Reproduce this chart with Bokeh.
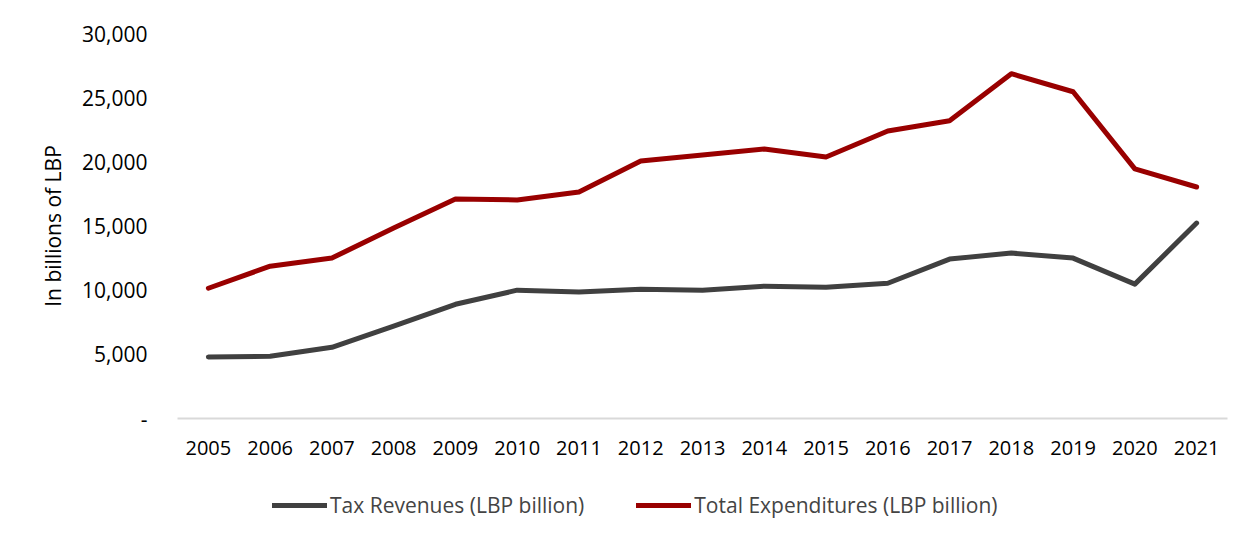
from bokeh.plotting import figure
from bokeh.layouts import column
from bokeh.models import Legend, LegendItem, FixedTicker, CustomJSTickFormatter, Range1d
from bokeh.embed import file_html
from bokeh.resources import INLINE

years = list(range(2005, 2022))
tax_revenues = [4800, 4850, 5550, 7200, 8900, 10000, 9850, 10080, 10000, 10310, 10230, 10540, 12420, 12890, 12500, 10470, 15230]
total_expenditures = [10150, 11870, 12500, 14840, 17100, 17030, 17650, 20070, 20540, 21000, 20380, 22400, 23200, 26870, 25460, 19450, 18040]
y_ticks = [0, 5000, 10000, 15000, 20000, 25000, 30000]
series_names = ["Tax Revenues (LBP billion)", "Total Expenditures (LBP billion)"]
colors = ["#404040", "#990000"]

FONT = "Open Sans"

p = figure(frame_width=1050, frame_height=385, output_backend="svg", toolbar_location=None,
           x_range=Range1d(2004.5, 2021.5), y_range=Range1d(0, 30000),
           min_border_left=177, min_border_right=17, min_border_top=33, min_border_bottom=60)
p.outline_line_color = None
p.xgrid.visible = False
p.ygrid.visible = False

p.line(years, tax_revenues, line_color=colors[0], line_width=5, line_cap="round", line_join="round")
p.line(years, total_expenditures, line_color=colors[1], line_width=5, line_cap="round", line_join="round")

p.xaxis.ticker = FixedTicker(ticks=years)
p.xaxis.axis_line_color = "#D9D9D9"
p.xaxis.axis_line_width = 2
p.xaxis.major_tick_line_color = None
p.xaxis.minor_tick_line_color = None
p.xaxis.major_label_text_font = FONT
p.xaxis.major_label_text_font_size = "20px"
p.xaxis.major_label_text_color = "#000000"
p.xaxis.major_label_standoff = 16

p.yaxis.ticker = FixedTicker(ticks=y_ticks)
p.yaxis.formatter = CustomJSTickFormatter(code="return tick == 0 ? '-' : tick.toLocaleString('en-US');")
p.yaxis.axis_line_color = None
p.yaxis.major_tick_line_color = None
p.yaxis.minor_tick_line_color = None
p.yaxis.major_label_text_font = FONT
p.yaxis.major_label_text_font_size = "21px"
p.yaxis.major_label_text_color = "#000000"
p.yaxis.major_label_standoff = 24
p.yaxis.axis_label = "In billions of LBP"
p.yaxis.axis_label_text_font = FONT
p.yaxis.axis_label_text_font_size = "21px"
p.yaxis.axis_label_text_font_style = "normal"
p.yaxis.axis_label_text_color = "#000000"
p.yaxis.axis_label_standoff = 12

# Separate strip below the chart that holds the legend
pl = figure(width=1244, height=53, output_backend="svg", toolbar_location=None,
            x_axis_location=None, y_axis_location=None,
            x_range=Range1d(2004.5, 2021.5), y_range=Range1d(0, 30000),
            min_border_left=0, min_border_right=0, min_border_top=0, min_border_bottom=0)
pl.outline_line_color = None
pl.xgrid.visible = False
pl.ygrid.visible = False
l1 = pl.line(x=years[:1], y=tax_revenues[:1], line_color=colors[0], line_width=5, line_cap="round")
l2 = pl.line(x=years[:1], y=total_expenditures[:1], line_color=colors[1], line_width=5, line_cap="round")

legend = Legend(items=[LegendItem(label=series_names[0], renderers=[l1]),
                       LegendItem(label=series_names[1], renderers=[l2])],
                orientation="horizontal", location=(95, 12),
                label_text_font=FONT, label_text_font_size="21px",
                glyph_width=55, label_standoff=3, spacing=52,
                border_line_color=None, background_fill_alpha=0,
                margin=0, padding=0)
pl.add_layout(legend, "center")

layout = column(p, pl, spacing=0)

open("out.html", "w").write(file_html(layout, INLINE))
